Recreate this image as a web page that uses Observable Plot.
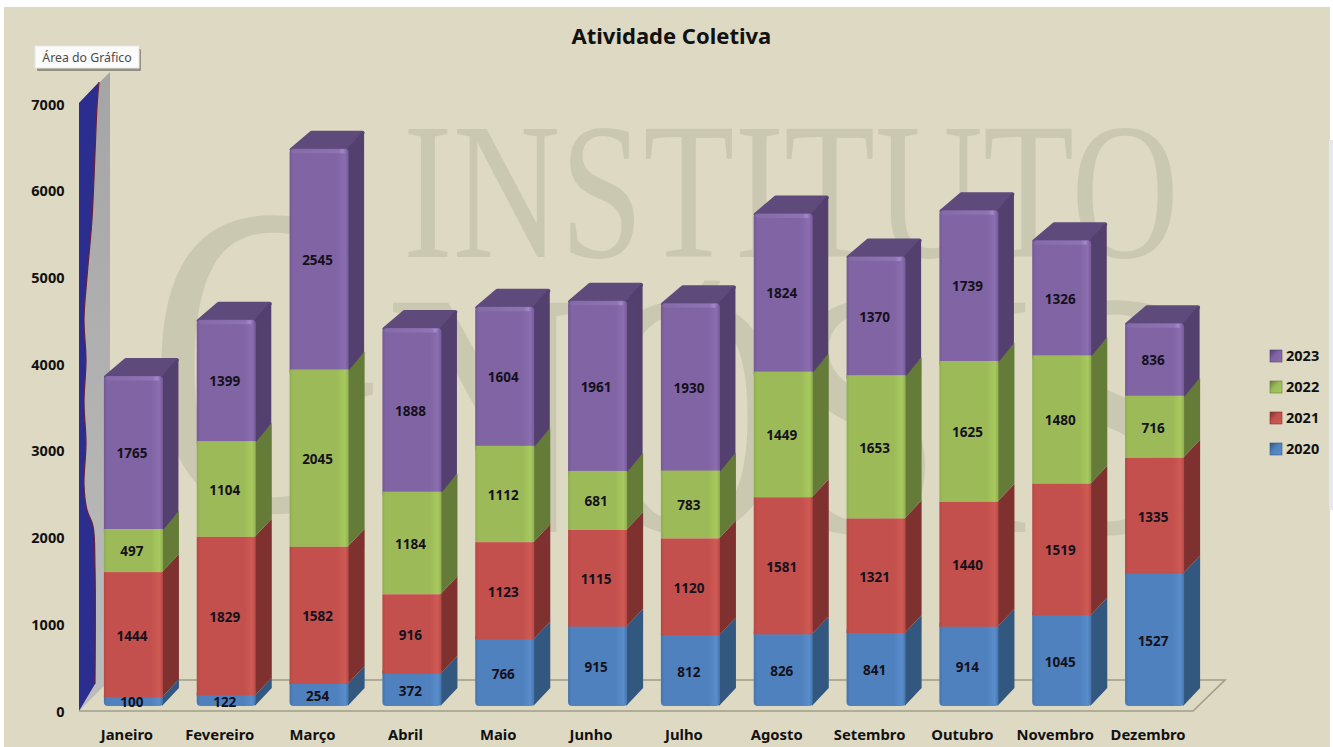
<!DOCTYPE html>
<html lang="pt">
<head>
<meta charset="utf-8">
<title>Atividade Coletiva</title>
<script src="https://cdn.jsdelivr.net/npm/d3@7"></script>
<script src="https://cdn.jsdelivr.net/npm/@observablehq/plot@0.6"></script>
<style>
html,body{margin:0;padding:0;background:#fff;overflow:hidden}
svg{display:block}
</style>
</head>
<body>
<div id="chart"></div>
<script>
const months = ["Janeiro","Fevereiro","Março","Abril","Maio","Junho","Julho","Agosto","Setembro","Outubro","Novembro","Dezembro"];
const years = ["2020","2021","2022","2023"];
const values2020 = [100,122,254,372,766,915,812,826,841,914,1045,1527];
const values2021 = [1444,1829,1582,916,1123,1115,1120,1581,1321,1440,1519,1335];
const values2022 = [497,1104,2045,1184,1112,681,783,1449,1653,1625,1480,716];
const values2023 = [1765,1399,2545,1888,1604,1961,1930,1824,1370,1739,1326,836];
const yTicks = [0,1000,2000,3000,4000,5000,6000,7000];
const series = [values2020, values2021, values2022, values2023];

const palette = {
  "2020": {edge:"#4474ad", mid:"#4f81bf", light:"#5a8dcb", side:"#33587f", top:"#3d6a9a"},
  "2021": {edge:"#b54845", mid:"#c3504c", light:"#cf5a55", side:"#7f3130", top:"#8f3a38"},
  "2022": {edge:"#90ae52", mid:"#9cbb58", light:"#a8c95e", side:"#657c39", top:"#708a40"},
  "2023": {edge:"#745a97", mid:"#8064a4", light:"#8a6eb0", side:"#54406e", top:"#5f4a7c"}
};

const rows = [];
months.forEach((month, m) => {
  let base = 0;
  years.forEach((year, s) => {
    const value = series[s][m];
    rows.push({month, year, value, y1: base, y2: base + value});
    base += value;
  });
});
const ofYear = (year) => rows.filter((d) => d.year === year);

const FONT = "'Noto Sans','Open Sans',sans-serif";
const DX = 16, DX_LEFT = 20, DY = 18;

function svgEl(tag, attrs, parent) {
  const el = document.createElementNS("http://www.w3.org/2000/svg", tag);
  for (const k in attrs) el.setAttribute(k, attrs[k]);
  if (parent) parent.appendChild(el);
  return el;
}

function defs() {
  const g = svgEl("g", {});
  const d = svgEl("defs", {}, g);
  for (const year of years) {
    const p = palette[year];
    const lg = svgEl("linearGradient", {id:"front"+year, x1:0, x2:1, y1:0, y2:0}, d);
    [[0,p.edge],[0.06,p.mid],[0.8,p.mid],[0.94,p.light],[1,p.edge]].forEach(([o,c]) => svgEl("stop",{offset:o,"stop-color":c},lg));
    const sw = svgEl("linearGradient", {id:"swatch"+year, x1:0, x2:1, y1:0, y2:1}, d);
    [[0,p.side],[0.45,p.mid],[1,p.light]].forEach(([o,c]) => svgEl("stop",{offset:o,"stop-color":c},sw));
  }
  const wall = svgEl("linearGradient", {id:"wall", x1:0, x2:0, y1:0, y2:1}, d);
  [[0,"#a5a5a5"],[0.6,"#b4b4b4"],[1,"#bcbcbc"]].forEach(([o,c]) => svgEl("stop",{offset:o,"stop-color":c},wall));
  const hi = svgEl("linearGradient", {id:"hi", x1:0, x2:1, y1:0, y2:0}, d);
  [[0,"#866ba9"],[0.85,"#8f74b4"],[0.93,"#a48acb"],[1,"#8064a4"]].forEach(([o,c]) => svgEl("stop",{offset:o,"stop-color":c},hi));
  return g;
}

function backdrop(index, scales, values, dim) {
  const g = svgEl("g", {});
  svgEl("rect", {x:4, y:7, width:1326, height:740, fill:"#ded9c3"}, g);
  svgEl("rect", {x:1329, y:140, width:4, height:370, fill:"#e7e7ef"}, g);
  const wm = {fill:"#cbc8b2", "font-family":"'Liberation Serif',serif", lengthAdjust:"spacingAndGlyphs", "text-anchor":"start"};
  const put = (txt, x, y, size, len) => {
    const t = svgEl("text", {...wm, x, y, "font-size":size, textLength:len}, g);
    t.textContent = txt;
  };
  put("INSTITUTO", 403, 257, 195, 776);
  put("G", 148, 510, 445, 235);
  put("NOSIS", 385, 532, 350, 805);
  put("´", 680, 385, 150, 48);
  return g;
}

function wall(index, scales) {
  const g = svgEl("g", {});
  const y = scales.y;
  const y0 = y(0) + 5, yTop = y(7000) + 4, x0 = 79, d = 31;
  svgEl("polygon", {points:`${x0},${yTop} ${x0+d},${yTop-d} ${x0+d},${y0-d} ${x0},${y0}`, fill:"url(#wall)"}, g);
  const edge = [[99,82],[97,107],[95,153],[92,219],[87,277],[84,319],[86,360],[84,402],[86,443],[84,485],[87,510],[93,526],[95,568],[95,684]];
  const line = d3.line().curve(d3.curveCatmullRom);
  const path = line(edge);
  svgEl("path", {d:`M${x0},${yTop}L${edge[0][0]},${edge[0][1]}` + path.replace(/^M[^C]*/, "") + `L${x0},${y0}Z`, fill:"#2b2e8e"}, g);
  svgEl("path", {d:path, fill:"none", stroke:"#6b1f3c", "stroke-width":1.2}, g);
  const floorBack = y0 - 31, fxr = 1193, bxr = 1225;
  svgEl("path", {d:`M${x0},${y0}L${fxr},${y0}L${bxr},${floorBack}L${x0+d},${floorBack}`, fill:"none", stroke:"#a09d8b", "stroke-width":1.6}, g);
  return g;
}

function depth(index, scales) {
  const g = svgEl("g", {});
  const bw = scales.x.bandwidth();
  const {x, y} = scales;
  for (const r of rows) {
    const xl = x(r.month), xr = xl + bw;
    const p = palette[r.year];
    const t = y(r.y2), b = y(r.y1);
    if (r.year === "2023") {
      svgEl("polygon", {
        points:`${xl+2},${t+1} ${xr-1},${t+1} ${xr+DX-2},${t-DY+2} ${xl+DX_LEFT+2},${t-DY+2}`,
        fill:p.top, stroke:p.top, "stroke-width":4, "stroke-linejoin":"round"
      }, g);
      svgEl("polygon", {
        points:`${xr-1},${t+2} ${xr+DX-2},${t-DY+3} ${xr+DX-2},${b-DY} ${xr-1},${b}`,
        fill:p.side, stroke:p.side, "stroke-width":3, "stroke-linejoin":"round"
      }, g);
    } else {
      svgEl("polygon", {points:`${xr-1},${t} ${xr+DX},${t-DY} ${xr+DX},${b-DY} ${xr-1},${b}`, fill:p.side}, g);
    }
  }
  return g;
}

function topHighlight(index, scales) {
  const g = svgEl("g", {});
  const bw = scales.x.bandwidth();
  for (const r of ofYear("2023")) {
    svgEl("rect", {x:scales.x(r.month)+2, y:scales.y(r.y2)+0.5, width:bw-4, height:4, rx:2, fill:"url(#hi)"}, g);
  }
  return g;
}

function legend() {
  const g = svgEl("g", {"font-family":FONT, "font-weight":700, "font-size":14.5, "text-anchor":"start"});
  [...years].reverse().forEach((year, i) => {
    const yy = 356 + i * 31;
    svgEl("rect", {x:1270, y:yy-6, width:12, height:12, fill:"url(#swatch"+year+")", stroke:palette[year].side, "stroke-width":0.6}, g);
    const t = svgEl("text", {x:1286, y:yy+5, fill:"#111"}, g);
    t.textContent = year;
  });
  return g;
}

function tooltip() {
  const g = svgEl("g", {});
  svgEl("rect", {x:37, y:49, width:104, height:22, fill:"#55544c", opacity:0.55, rx:1}, g);
  svgEl("rect", {x:35, y:46, width:104, height:22, fill:"#fbfbfb", stroke:"#e8e8e8"}, g);
  const t = svgEl("text", {x:87, y:61.5, "text-anchor":"middle", "font-family":"'Noto Sans',sans-serif", "font-size":12.3, fill:"#4a4a4a"}, g);
  t.textContent = "Área do Gráfico";
  return g;
}

const front = (year, opts) => Plot.barY(ofYear(year), {
  x:"month", y1:"y1", y2:"y2", fill:`url(#front${year})`, ...opts
});

const chart = Plot.plot({
  width:1333, height:747,
  marginLeft:87, marginRight:132, marginTop:99, marginBottom:41,
  style:{background:"transparent", fontFamily:FONT},
  x:{domain:months, paddingInner:0.364, paddingOuter:0.182, round:false, label:null},
  y:{domain:[0,7000], label:null},
  marks:[
    defs,
    backdrop,
    wall,
    depth,
    front("2023", {rx:4, insetBottom:-6}),
    front("2020", {rx:4, insetTop:-6}),
    front("2022", {}),
    front("2021", {}),
    topHighlight,
    Plot.axisY({ticks:yTicks, tickSize:0, tickPadding:23, dy:5.5, fontSize:14.5, fontWeight:700, fill:"#111", label:null, tickFormat:(d) => String(d)}),
    Plot.axisX({tickSize:0, tickPadding:23, dx:-7, fontSize:14.8, fontWeight:700, fill:"#111", label:null}),
    Plot.text(rows, {
      x:"month", y:(d) => (d.y1 + d.y2) / 2, text:(d) => String(d.value), dx:-2, dy:1,
      fontSize:13.5, fontWeight:700, fill:"#15111c"
    }),
    Plot.text(["Atividade Coletiva"], {frameAnchor:"top-left", dx:484, dy:-71, textAnchor:"start", fontSize:22, fontWeight:700, fill:"#111"}),
    legend,
    tooltip
  ]
});
document.getElementById("chart").appendChild(chart);
</script>
</body>
</html>
